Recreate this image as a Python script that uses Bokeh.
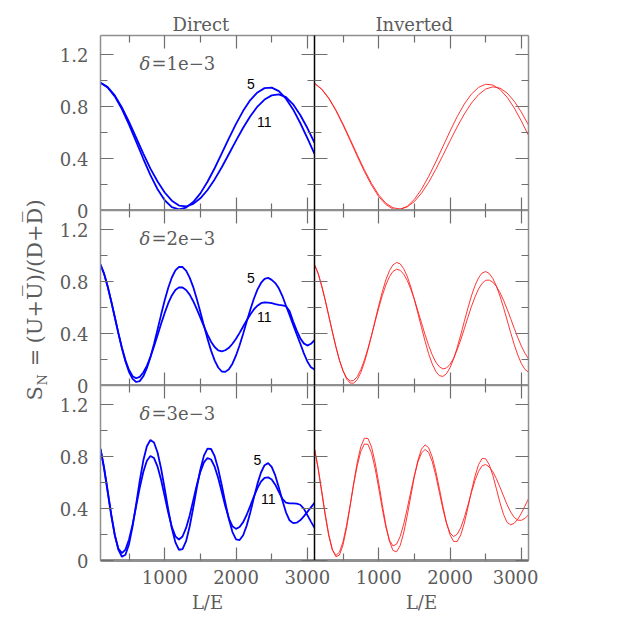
import math
from bokeh.plotting import figure
from bokeh.layouts import row, column
from bokeh.models import Range1d, LinearAxis, FixedTicker, ColumnDataSource, CustomLabelingPolicy
from bokeh.core.properties import value
from bokeh.embed import file_html
from bokeh.resources import INLINE

# ---------------- data ----------------
L_E_100 = [100, 200, 300, 400, 500, 600, 700, 800, 900, 1000, 1100, 1200, 1300, 1400, 1500,
           1600, 1700, 1800, 1900, 2000, 2100, 2200, 2300, 2400, 2500, 2600, 2700, 2800, 2900,
           3000, 3100]
L_E_50 = [100, 150, 200, 250, 300, 350, 400, 450, 500, 550, 600, 650, 700, 750, 800, 850, 900,
          950, 1000, 1050, 1100, 1150, 1200, 1250, 1300, 1350, 1400, 1450, 1500, 1550, 1600,
          1650, 1700, 1750, 1800, 1850, 1900, 1950, 2000, 2050, 2100, 2150, 2200, 2250, 2300,
          2350, 2400, 2450, 2500, 2550, 2600, 2650, 2700, 2750, 2800, 2850, 2900, 2950, 3000,
          3050, 3100]

# delta = 1e-3  (sampled every 100 of L/E)
d1_direct_5 = [0.985, 0.949, 0.880, 0.782, 0.663, 0.532, 0.399, 0.273, 0.164, 0.079, 0.026,
               0.008, 0.023, 0.065, 0.132, 0.222, 0.326, 0.440, 0.557, 0.668, 0.769, 0.852,
               0.911, 0.944, 0.948, 0.921, 0.863, 0.780, 0.675, 0.558, 0.437]
d1_direct_11 = [0.985, 0.952, 0.888, 0.795, 0.683, 0.562, 0.439, 0.323, 0.224, 0.139, 0.076,
                0.038, 0.031, 0.051, 0.094, 0.158, 0.240, 0.334, 0.436, 0.539, 0.638, 0.727,
                0.802, 0.856, 0.888, 0.896, 0.874, 0.819, 0.737, 0.636, 0.522]
d1_inv_5 = [0.980, 0.935, 0.864, 0.770, 0.659, 0.540, 0.417, 0.300, 0.195, 0.108, 0.046,
            0.011, 0.007, 0.032, 0.086, 0.164, 0.262, 0.374, 0.493, 0.612, 0.724, 0.821,
            0.898, 0.950, 0.974, 0.968, 0.934, 0.874, 0.791, 0.690, 0.579]
d1_inv_11 = [0.982, 0.938, 0.868, 0.776, 0.667, 0.550, 0.429, 0.313, 0.208, 0.120, 0.057,
             0.021, 0.012, 0.028, 0.069, 0.134, 0.217, 0.317, 0.425, 0.537, 0.645, 0.744,
             0.829, 0.894, 0.937, 0.954, 0.944, 0.906, 0.843, 0.759, 0.659]

# delta = 2e-3  (sampled every 50 of L/E)
d2_direct_5 = [0.932, 0.863, 0.765, 0.651, 0.528, 0.404, 0.287, 0.185, 0.104, 0.051,
               0.027, 0.034, 0.071, 0.134, 0.219, 0.321, 0.433, 0.547, 0.657, 0.754,
               0.833, 0.888, 0.915, 0.914, 0.886, 0.832, 0.759, 0.668, 0.567, 0.462,
               0.361, 0.269, 0.194, 0.139, 0.108, 0.105, 0.125, 0.168, 0.232, 0.310,
               0.399, 0.493, 0.584, 0.669, 0.739, 0.791, 0.822, 0.830, 0.815, 0.790,
               0.750, 0.690, 0.615, 0.545, 0.470, 0.395, 0.324, 0.250, 0.185, 0.140,
               0.123]
d2_direct_11 = [0.932, 0.862, 0.764, 0.650, 0.528, 0.406, 0.292, 0.194, 0.119, 0.072,
                0.056, 0.067, 0.100, 0.152, 0.220, 0.301, 0.388, 0.476, 0.560, 0.635,
                0.695, 0.737, 0.757, 0.756, 0.737, 0.701, 0.650, 0.589, 0.523, 0.456,
                0.393, 0.338, 0.297, 0.271, 0.264, 0.272, 0.291, 0.322, 0.361, 0.406,
                0.455, 0.503, 0.548, 0.587, 0.616, 0.635, 0.641, 0.640, 0.635, 0.628,
                0.622, 0.618, 0.612, 0.575, 0.495, 0.425, 0.365, 0.325, 0.308, 0.322,
                0.350]
d2_inv_5 = [0.932, 0.867, 0.772, 0.660, 0.539, 0.416, 0.299, 0.195, 0.111, 0.050,
            0.019, 0.018, 0.046, 0.101, 0.179, 0.277, 0.386, 0.502, 0.616, 0.722,
            0.814, 0.885, 0.930, 0.949, 0.939, 0.902, 0.842, 0.760, 0.663, 0.556,
            0.447, 0.341, 0.245, 0.167, 0.109, 0.076, 0.070, 0.091, 0.137, 0.205,
            0.292, 0.390, 0.494, 0.596, 0.691, 0.771, 0.831, 0.868, 0.879, 0.864,
            0.826, 0.767, 0.690, 0.601, 0.505, 0.408, 0.315, 0.235, 0.169, 0.124,
            0.103]
d2_inv_11 = [0.932, 0.865, 0.769, 0.658, 0.536, 0.414, 0.298, 0.195, 0.115, 0.060,
             0.035, 0.039, 0.069, 0.123, 0.197, 0.287, 0.388, 0.494, 0.597, 0.693,
             0.775, 0.839, 0.880, 0.897, 0.889, 0.859, 0.810, 0.743, 0.664, 0.575,
             0.483, 0.392, 0.309, 0.237, 0.181, 0.145, 0.128, 0.135, 0.163, 0.210,
             0.275, 0.352, 0.437, 0.525, 0.609, 0.683, 0.745, 0.788, 0.812, 0.813,
             0.797, 0.764, 0.717, 0.658, 0.589, 0.516, 0.441, 0.369, 0.304, 0.249,
             0.205]

# delta = 3e-3  (sampled every 50 of L/E)
d3_direct_5 = [0.861, 0.719, 0.541, 0.359, 0.199, 0.084, 0.029, 0.044, 0.126, 0.264,
               0.435, 0.614, 0.771, 0.881, 0.930, 0.910, 0.833, 0.708, 0.554, 0.393,
               0.248, 0.140, 0.083, 0.087, 0.149, 0.262, 0.406, 0.561, 0.702, 0.809,
               0.863, 0.860, 0.805, 0.707, 0.581, 0.445, 0.318, 0.219, 0.163, 0.158,
               0.195, 0.270, 0.371, 0.483, 0.591, 0.679, 0.735, 0.751, 0.722, 0.656,
               0.563, 0.462, 0.372, 0.310, 0.288, 0.292, 0.310, 0.340, 0.375, 0.410,
               0.445]
d3_direct_11 = [0.861, 0.709, 0.529, 0.348, 0.195, 0.093, 0.057, 0.084, 0.162, 0.279,
                0.419, 0.560, 0.683, 0.769, 0.806, 0.790, 0.724, 0.621, 0.495, 0.368,
                0.259, 0.186, 0.162, 0.185, 0.251, 0.348, 0.464, 0.582, 0.684, 0.757,
                0.791, 0.779, 0.724, 0.636, 0.528, 0.419, 0.325, 0.264, 0.244, 0.258,
                0.296, 0.353, 0.422, 0.493, 0.558, 0.608, 0.637, 0.642, 0.625, 0.585,
                0.530, 0.475, 0.447, 0.440, 0.440, 0.438, 0.430, 0.400, 0.350, 0.300,
                0.252]
d3_inv_5 = [0.861, 0.719, 0.542, 0.361, 0.201, 0.085, 0.029, 0.042, 0.120, 0.253,
            0.421, 0.599, 0.760, 0.880, 0.944, 0.941, 0.875, 0.755, 0.600, 0.432,
            0.274, 0.150, 0.078, 0.067, 0.114, 0.212, 0.346, 0.498, 0.647, 0.774,
            0.859, 0.892, 0.870, 0.800, 0.690, 0.557, 0.418, 0.293, 0.198, 0.147,
            0.147, 0.197, 0.288, 0.406, 0.535, 0.651, 0.740, 0.787, 0.785, 0.738,
            0.657, 0.553, 0.446, 0.355, 0.294, 0.275, 0.287, 0.319, 0.365, 0.420,
            0.476]
d3_inv_11 = [0.861, 0.710, 0.529, 0.347, 0.189, 0.082, 0.039, 0.064, 0.145, 0.273,
             0.428, 0.590, 0.734, 0.843, 0.899, 0.895, 0.828, 0.710, 0.559, 0.400,
             0.259, 0.157, 0.112, 0.126, 0.184, 0.279, 0.400, 0.531, 0.656, 0.760,
             0.830, 0.856, 0.834, 0.764, 0.656, 0.527, 0.397, 0.287, 0.212, 0.185,
             0.202, 0.253, 0.331, 0.426, 0.525, 0.617, 0.688, 0.731, 0.740, 0.722,
             0.685, 0.631, 0.566, 0.497, 0.431, 0.374, 0.333, 0.311, 0.310, 0.325,
             0.352]

col_titles = ["Direct", "Inverted"]
delta_symbol = "\u03b4"
delta_values = ["=1e\u22123", "=2e\u22123", "=3e\u22123"]
curve_names = ["5", "11"]
x_ticks = [1000, 2000, 3000]
x_minor = [500, 1500, 2500]
y_ticks = [0, 0.4, 0.8, 1.2]
y_minor = [0.2, 0.6, 1.0]
y_tick_labels = {0: "0", 0.4: "0.4", 0.8: "0.8", 1.2: "1.2"}
x_label = "L/E"

panels_data = [
    [(L_E_100, d1_direct_5, d1_direct_11), (L_E_100, d1_inv_5, d1_inv_11)],
    [(L_E_50, d2_direct_5, d2_direct_11), (L_E_50, d2_inv_5, d2_inv_11)],
    [(L_E_50, d3_direct_5, d3_direct_11), (L_E_50, d3_inv_5, d3_inv_11)],
]

# ---------------- styling ----------------
FONT = "DejaVu Serif"
TXT = "#5c5c5c"
FRAME = "#8f8f8f"
TICK = "#6e6e6e"
FW, FH = 214, 175
LAB_W = 56
OVL = 20   # horizontal overlap between the columns (room for the "3000" label)
OVT = 10   # vertical overlap between the rows (room for the "0" labels)

name_pos = [[(2207, 0.978), (2395, 0.681)],
            [(2207, 0.831), (2395, 0.527)],
            [(2301, 0.779), (2451, 0.476)]]
delta_split = (800, 815, 1.132)
title_offsets = [72, 61]

HIDE = "for (const i of indices) { indices.unset(i) }\nreturn indices"


def add_axis(p, loc, ticks, minor, labels, line_color, line_width, overrides=None,
             axis_label=None, standoff=10):
    ax = LinearAxis(ticker=FixedTicker(ticks=ticks, minor_ticks=minor))
    ax.major_tick_in = 13
    ax.major_tick_out = 0
    ax.minor_tick_in = 7
    ax.minor_tick_out = 0
    ax.major_tick_line_color = TICK
    ax.minor_tick_line_color = TICK
    ax.major_tick_line_width = 1.2
    ax.minor_tick_line_width = 1.2
    ax.axis_line_color = line_color
    ax.axis_line_width = line_width
    if labels:
        ax.major_label_text_font = FONT
        ax.major_label_text_font_size = "18px"
        ax.major_label_text_color = TXT
        ax.major_label_standoff = standoff
        if overrides:
            ax.major_label_overrides = overrides
    else:
        ax.major_label_text_font_size = "0px"
        ax.major_label_standoff = 0
        ax.major_label_policy = CustomLabelingPolicy(code=HIDE)
    if axis_label:
        ax.axis_label = axis_label
        ax.axis_label_text_font = FONT
        ax.axis_label_text_font_size = "18px"
        ax.axis_label_text_font_style = "normal"
        ax.axis_label_text_color = TXT
        ax.axis_label_standoff = 5
    p.add_layout(ax, loc)


def make_panel(r, c):
    xs, y5, y11 = panels_data[r][c]
    p = figure(frame_width=FW, frame_height=FH,
               x_range=Range1d(100, 3100), y_range=Range1d(0, 1.35),
               x_axis_location=None, y_axis_location=None,
               toolbar_location=None, output_backend="svg",
               min_border_left=98 - LAB_W if c == 0 else 0,
               min_border_right=OVL if c == 0 else 10,
               min_border_top=35 if r == 0 else 0,
               min_border_bottom=70 if r == 2 else OVT)
    p.grid.visible = False
    p.outline_line_color = None
    p.border_fill_color = None
    p.margin = (-OVT if r > 0 else 0, 0, 0, -OVL if c == 1 else 0)
    if r == 0:
        p.title.text = col_titles[c]
        p.title.align = "left"
        p.title.offset = title_offsets[c]
        p.title.text_font = FONT
        p.title.text_font_size = "18px"
        p.title.text_font_style = "normal"
        p.title.text_color = TXT
        p.title.standoff = 2

    add_axis(p, "below", x_ticks, x_minor, r == 2, FRAME, 3,
             axis_label=x_label if r == 2 else None, standoff=9)
    add_axis(p, "above", x_ticks, x_minor, False, FRAME, 1.5)
    add_axis(p, "left", y_ticks, y_minor, c == 0, FRAME if c == 0 else "black", 1.5,
             overrides=y_tick_labels, standoff=12)
    add_axis(p, "right", y_ticks, y_minor, False, "black" if c == 0 else FRAME, 1.5)

    src = ColumnDataSource(dict(x=xs, a=y5, b=y11))
    if c == 0:
        for col in ("a", "b"):
            p.line("x", col, source=src, line_color="#0000ff", line_width=1.8)
        for (nx, ny), nm in zip(name_pos[r], curve_names):
            p.text(x=[nx], y=[ny], text=[nm], text_font=value("Liberation Sans"),
                   text_font_size="14px", text_color="black",
                   text_align="center", text_baseline="middle")
        xa, xb, yd = delta_split
        p.text(x=[xa], y=[yd], text=[delta_symbol], text_font=value(FONT),
               text_font_size="18px", text_font_style="italic", text_color=TXT,
               text_align="right", text_baseline="middle")
        p.text(x=[xb], y=[yd], text=[delta_values[r]], text_font=value(FONT),
               text_font_size="18px", text_color=TXT,
               text_align="left", text_baseline="middle")
    else:
        for col in ("a", "b"):
            p.line("x", col, source=src, line_color="#ff2020", line_width=1.0, line_alpha=0.9)
    return p


grid_rows = [row(make_panel(r, 0), make_panel(r, 1)) for r in range(3)]

# y-axis label strip (coordinates of this strip are pixels from its bottom-left corner)
LH = 630
lab = figure(width=LAB_W, height=LH, x_range=Range1d(0, LAB_W), y_range=Range1d(0, LH),
             x_axis_location=None, y_axis_location=None, toolbar_location=None,
             output_backend="svg", min_border=0)
lab.grid.visible = False
lab.outline_line_color = None
ang = math.pi / 2
lab.text(x=[34], y=[230], text=["S"], angle=ang, text_font=value(FONT),
         text_font_size="21px", text_color=TXT, text_align="left", text_baseline="alphabetic")
lab.text(x=[42], y=[245], text=["N"], angle=ang, text_font=value(FONT),
         text_font_size="13px", text_color=TXT, text_align="left", text_baseline="alphabetic")
lab.text(x=[34], y=[273], text=["="], angle=ang, text_font=value(FONT),
         text_font_size="21px", text_color=TXT, text_align="center", text_baseline="alphabetic")
lab.text(x=[34], y=[287], text=["(U+U\u0305)/(D+D\u0305)"], angle=ang, text_font=value(FONT),
         text_font_size="21px", text_color=TXT, text_align="left", text_baseline="alphabetic")

layout = row(lab, column(*grid_rows))

open("out.html", "w").write(file_html(layout, INLINE))
